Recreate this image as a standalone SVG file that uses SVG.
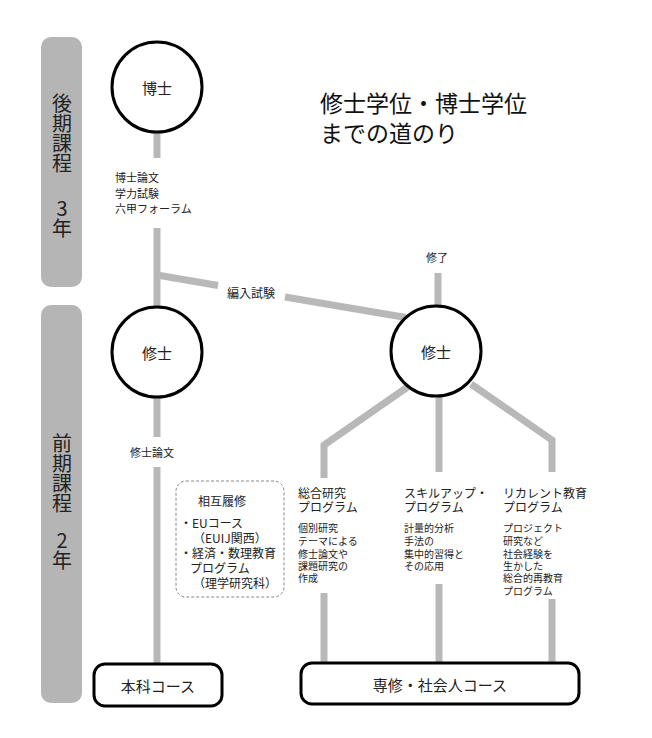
<svg xmlns="http://www.w3.org/2000/svg" width="652" height="738" viewBox="0 0 652 738">
<style>
text,tspan{font-family:"Noto Sans CJK JP","Noto Sans",sans-serif;fill:#222;dominant-baseline:central}
.bar{fill:#b5b5b5}
.conn{stroke:#b8b8b8;stroke-width:7;fill:none;stroke-linecap:butt;stroke-linejoin:miter}
.node{fill:#fff;stroke:#000;stroke-width:3}
.bt{font-size:20px;writing-mode:vertical-rl;text-orientation:upright;letter-spacing:0.3px}
.s11{font-size:11px}
.s10{font-size:10px}
.s12{font-size:12px}
.c15{font-size:15px;text-anchor:middle}
.mid{text-anchor:middle}
</style>
<rect width="652" height="738" fill="#fff"/>
<g id="phase-late">
<rect class="bar" x="41" y="37" width="41" height="250" rx="10"/>
<text class="bt" x="62" y="93">後期課程</text>
<text class="bt" x="62" y="198">3年</text>
</g>
<g id="phase-early">
<rect class="bar" x="41" y="305" width="41" height="398" rx="10"/>
<text class="bt" x="62" y="433">前期課程</text>
<text class="bt" x="62" y="530">2年</text>
</g>
<g id="title">
<text x="320" y="102" style="font-size:23px;fill:#111">修士学位・博士学位<tspan x="320" dy="30" style="fill:#111">までの道のり</tspan></text>
</g>
<g id="connectors">
<line class="conn" x1="157" y1="130" x2="157" y2="158"/>
<line class="conn" x1="157" y1="228" x2="157" y2="310"/>
<line class="conn" x1="157" y1="275" x2="218" y2="285.5"/>
<line class="conn" x1="285" y1="297" x2="406" y2="317.5"/>
<line class="conn" x1="438" y1="273" x2="438" y2="308"/>
<line class="conn" x1="157" y1="395" x2="157" y2="437"/>
<line class="conn" x1="157" y1="467" x2="157" y2="664"/>
<polyline class="conn" points="409,386 324,445 324,478"/>
<line class="conn" x1="439" y1="395" x2="439" y2="472"/>
<polyline class="conn" points="471,384 552,440 552,472"/>
<line class="conn" x1="324" y1="593" x2="324" y2="663"/>
<line class="conn" x1="439" y1="584" x2="439" y2="663"/>
<line class="conn" x1="552" y1="599" x2="552" y2="663"/>
<text class="s11" x="115" y="177">博士論文<tspan x="115" dy="16">学力試験</tspan><tspan x="115" dy="15">六甲フォーラム</tspan></text>
<text class="s12 mid" x="251" y="292">編入試験</text>
<text class="s11 mid" x="437" y="257">修了</text>
<text class="s11 mid" x="152" y="452">修士論文</text>
</g>
<g id="doctor">
<circle class="node" cx="157" cy="87" r="45"/>
<text class="c15" x="157" y="87">博士</text>
</g>
<g id="master-left">
<circle class="node" cx="157" cy="352" r="45"/>
<text class="c15" x="157" y="352">修士</text>
</g>
<g id="master-right">
<circle class="node" cx="436" cy="351" r="45"/>
<text class="c15" x="436" y="351">修士</text>
</g>
<g id="mutual">
<rect x="176" y="481" width="108" height="116" rx="10" fill="none" stroke="#888" stroke-width="1" stroke-dasharray="3,2"/>
<text class="s12 mid" x="222" y="500">相互履修</text>
<text class="s12" x="180" y="522">・EUコース<tspan x="193" dy="15">（EUIJ関西）</tspan><tspan x="180" dy="15">・経済・数理教育</tspan><tspan x="190" dy="15">プログラム</tspan><tspan x="193" dy="15">（理学研究科）</tspan></text>
</g>
<g id="prog-general">
<text class="s12" x="298" y="492">総合研究<tspan x="298" dy="14">プログラム</tspan></text>
<text class="s10" x="298" y="527">個別研究<tspan x="298" dy="13">テーマによる</tspan><tspan x="298" dy="12.5">修士論文や</tspan><tspan x="298" dy="12.5">課題研究の</tspan><tspan x="298" dy="12">作成</tspan></text>
</g>
<g id="prog-skill">
<text class="s12" x="404" y="492">スキルアップ・<tspan x="404" dy="14">プログラム</tspan></text>
<text class="s10" x="404" y="527">計量的分析<tspan x="404" dy="13">手法の</tspan><tspan x="404" dy="12.5">集中的習得と</tspan><tspan x="404" dy="12.5">その応用</tspan></text>
</g>
<g id="prog-recurrent">
<text class="s12" x="503" y="492">リカレント教育<tspan x="503" dy="14">プログラム</tspan></text>
<text class="s10" x="503" y="527">プロジェクト<tspan x="503" dy="13">研究など</tspan><tspan x="503" dy="12.5">社会経験を</tspan><tspan x="503" dy="12.5">生かした</tspan><tspan x="503" dy="12">総合的再教育</tspan><tspan x="503" dy="13">プログラム</tspan></text>
</g>
<g id="course-main">
<rect class="node" x="94" y="664" width="128" height="42" rx="11"/>
<text class="c15" x="158" y="685">本科コース</text>
</g>
<g id="course-special">
<rect class="node" x="301" y="663" width="278" height="41" rx="11"/>
<text class="c15" x="440" y="684">専修・社会人コース</text>
</g>
</svg>
